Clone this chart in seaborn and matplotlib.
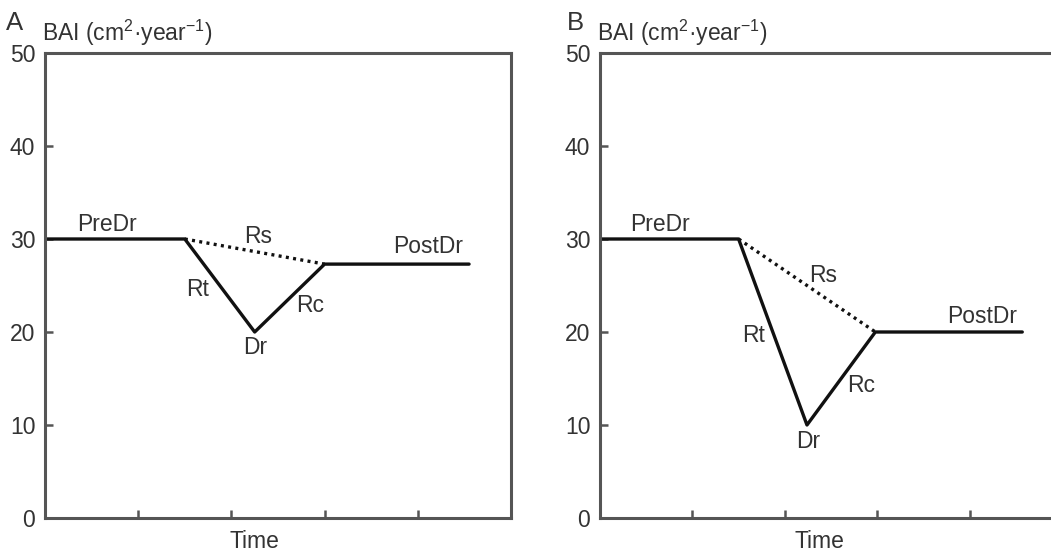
import matplotlib
matplotlib.use("Agg")
import matplotlib.pyplot as plt
import seaborn as sns
import pandas as pd

# ---- data ----
time_a = [0.0, 1.5, 2.25, 3.0, 4.55]
bai_a = [30, 30, 20, 27.3, 27.3]
rs_time_a = [1.5, 3.0]
rs_bai_a = [30, 27.3]

time_b = [0.0, 1.5, 2.24, 2.98, 4.57]
bai_b = [30, 30, 10, 20, 20]
rs_time_b = [1.5, 2.98]
rs_bai_b = [30, 20]

yticks = [0, 10, 20, 30, 40, 50]
xticks = [0, 1, 2, 3, 4, 5]

# label positions (data coords)
labels_a = {"PreDr": (0.67, 31.6), "Rs": (2.29, 30.3), "Rt": (1.64, 24.6),
            "Rc": (2.85, 22.8), "Dr": (2.26, 18.3), "PostDr": (4.11, 29.2)}
labels_b = {"PreDr": (0.65, 31.6), "Rs": (2.41, 26.1), "Rt": (1.66, 19.6),
            "Rc": (2.83, 14.2), "Dr": (2.25, 8.2), "PostDr": (4.14, 21.7)}

sns.set_theme(style="ticks")
plt.rcParams['font.family'] = ['Liberation Sans', 'DejaVu Sans']
plt.rcParams['mathtext.fontset'] = 'custom'
plt.rcParams['mathtext.rm'] = 'Liberation Sans'
plt.rcParams['mathtext.it'] = 'Liberation Sans'
plt.rcParams['mathtext.default'] = 'regular'

TXT = '#333333'
SP = '#555555'
FS = 16.5

fig = plt.figure(figsize=(10.51, 5.52), dpi=100)
ax_a = fig.add_axes([45/1051, 34/552, 466/1051, 465/552])
ax_b = fig.add_axes([600/1051, 34/552, 462/1051, 465/552])

def draw(ax, t, b, rt, rb, labels, letter, xlab_x, letter_x, ylab_x):
    df = pd.DataFrame({"Time": t, "BAI": b})
    sns.lineplot(data=df, x="Time", y="BAI", ax=ax, color='#111111', lw=2.4,
                 sort=False, estimator=None)
    dr = pd.DataFrame({"Time": rt, "BAI": rb})
    sns.lineplot(data=dr, x="Time", y="BAI", ax=ax, color='#111111', lw=2.4,
                 sort=False, estimator=None, linestyle=(0, (0.9, 1.3)))
    ax.set_xlim(0, 5)
    ax.set_ylim(0, 50)
    ax.set_xticks(xticks)
    ax.set_xticklabels([])
    ax.set_yticks(yticks)
    ax.set_yticklabels([str(v) for v in yticks], color=TXT, fontsize=FS)
    ax.tick_params(direction='in', length=6, width=1.8, color=SP, pad=7)
    ax.tick_params(axis='x', bottom=True)
    for s in ax.spines.values():
        s.set_visible(True)
        s.set_color(SP)
        s.set_linewidth(2.2)
    ax.set_xlabel("Time", fontsize=FS, color=TXT)
    ax.xaxis.set_label_coords(xlab_x, -0.025, transform=ax.transAxes)
    ax.xaxis.label.set_va('top')
    ax.set_ylabel("")
    for k, (x, y) in labels.items():
        ax.text(x, y, k, ha='center', va='center', fontsize=FS, color=TXT)
    fig.text(letter_x/1051, 1 - 23/552, letter, fontsize=FS + 2, color=TXT,
             ha='center', va='center')
    fig.text(ylab_x/1051, 1 - 33/552, r"BAI (cm$^{2}$·year$^{-1}$)",
             fontsize=FS, color=TXT, ha='left', va='center')

draw(ax_a, time_a, bai_a, rs_time_a, rs_bai_a, labels_a, "A", 0.449, 15, 42)
draw(ax_b, time_b, bai_b, rs_time_b, rs_bai_b, labels_b, "B", 0.476, 575, 597)

fig.savefig("out.png", dpi=100)
